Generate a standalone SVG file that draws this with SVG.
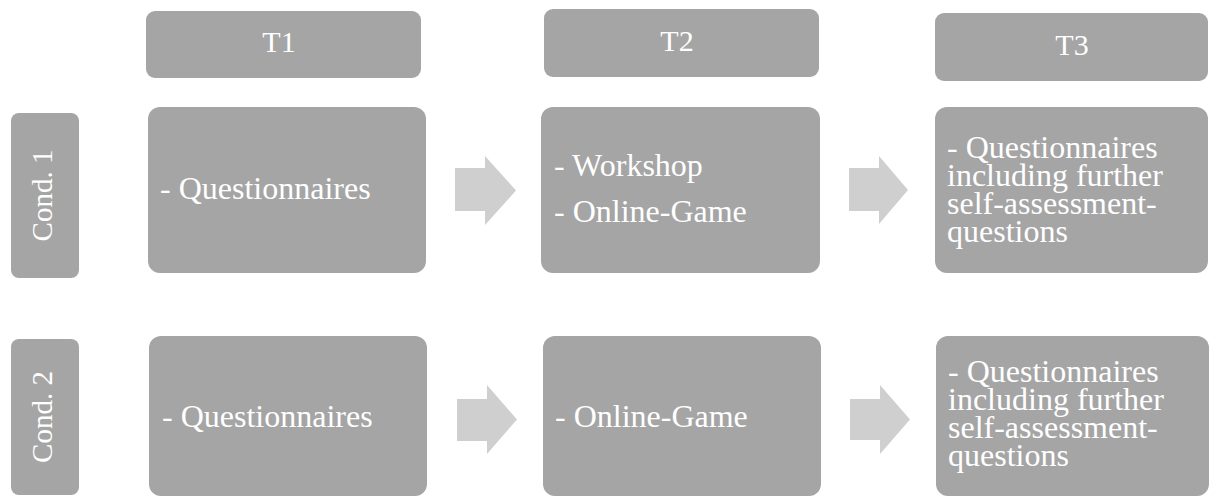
<svg xmlns="http://www.w3.org/2000/svg" width="1209" height="496" viewBox="0 0 1209 496">
<style>
.box{fill:#a5a5a5}
.arrow{fill:#cfcfcf}
text{font-family:"Liberation Serif","DejaVu Serif",serif;fill:#ffffff}
.hd{font-size:30px;text-anchor:middle}
.bd{font-size:32px}
.cd{font-size:29px;text-anchor:middle}
</style>
<rect width="1209" height="496" fill="#ffffff"/>
<g id="header-t1"><rect class="box" x="146" y="11" width="275" height="67" rx="9"/><text class="hd" x="279" y="52">T1</text></g>
<g id="header-t2"><rect class="box" x="544" y="9" width="275" height="68" rx="9"/><text class="hd" x="677" y="51">T2</text></g>
<g id="header-t3"><rect class="box" x="935" y="13" width="273" height="68" rx="9"/><text class="hd" x="1072" y="55">T3</text></g>
<g id="cond-1"><rect class="box" x="11" y="113" width="68" height="165" rx="8"/><text class="cd" transform="translate(52,195.5) rotate(-90)">Cond. 1</text></g>
<g id="cond-2"><rect class="box" x="11" y="339" width="68" height="156" rx="8"/><text class="cd" transform="translate(52,417) rotate(-90)">Cond. 2</text></g>
<g id="c1-t1"><rect class="box" x="148" y="107" width="278" height="166" rx="12"/><text class="bd" x="160" y="199">- Questionnaires</text></g>
<g id="c1-t2"><rect class="box" x="541" y="107" width="279" height="166" rx="12"/><text class="bd" x="554" y="176">- Workshop</text><text class="bd" x="554" y="222">- Online-Game</text></g>
<g id="c1-t3"><rect class="box" x="935" y="107" width="273" height="166" rx="12"/><text class="bd" x="947" y="158">- Questionnaires<tspan x="947" dy="28">including further</tspan><tspan x="947" dy="28">self-assessment-</tspan><tspan x="947" dy="28">questions</tspan></text></g>
<g id="c2-t1"><rect class="box" x="149" y="336" width="278" height="160" rx="12"/><text class="bd" x="162" y="427">- Questionnaires</text></g>
<g id="c2-t2"><rect class="box" x="543" y="336" width="278" height="160" rx="12"/><text class="bd" x="555" y="427">- Online-Game</text></g>
<g id="c2-t3"><rect class="box" x="936" y="336" width="273" height="160" rx="12"/><text class="bd" x="948" y="382">- Questionnaires<tspan x="948" dy="28">including further</tspan><tspan x="948" dy="28">self-assessment-</tspan><tspan x="948" dy="28">questions</tspan></text></g>
<g id="connectors">
<polygon class="arrow" points="455,168 485,168 485,156 516,190.5 485,225 485,211 455,211"/>
<polygon class="arrow" points="849,168 879,168 879,156 908,190 879,224 879,211 849,211"/>
<polygon class="arrow" points="457,399 487,399 487,385 517,419.5 487,454 487,441 457,441"/>
<polygon class="arrow" points="850,399 880,399 880,385 910,419.5 880,454 880,440 850,440"/>
</g>
</svg>
